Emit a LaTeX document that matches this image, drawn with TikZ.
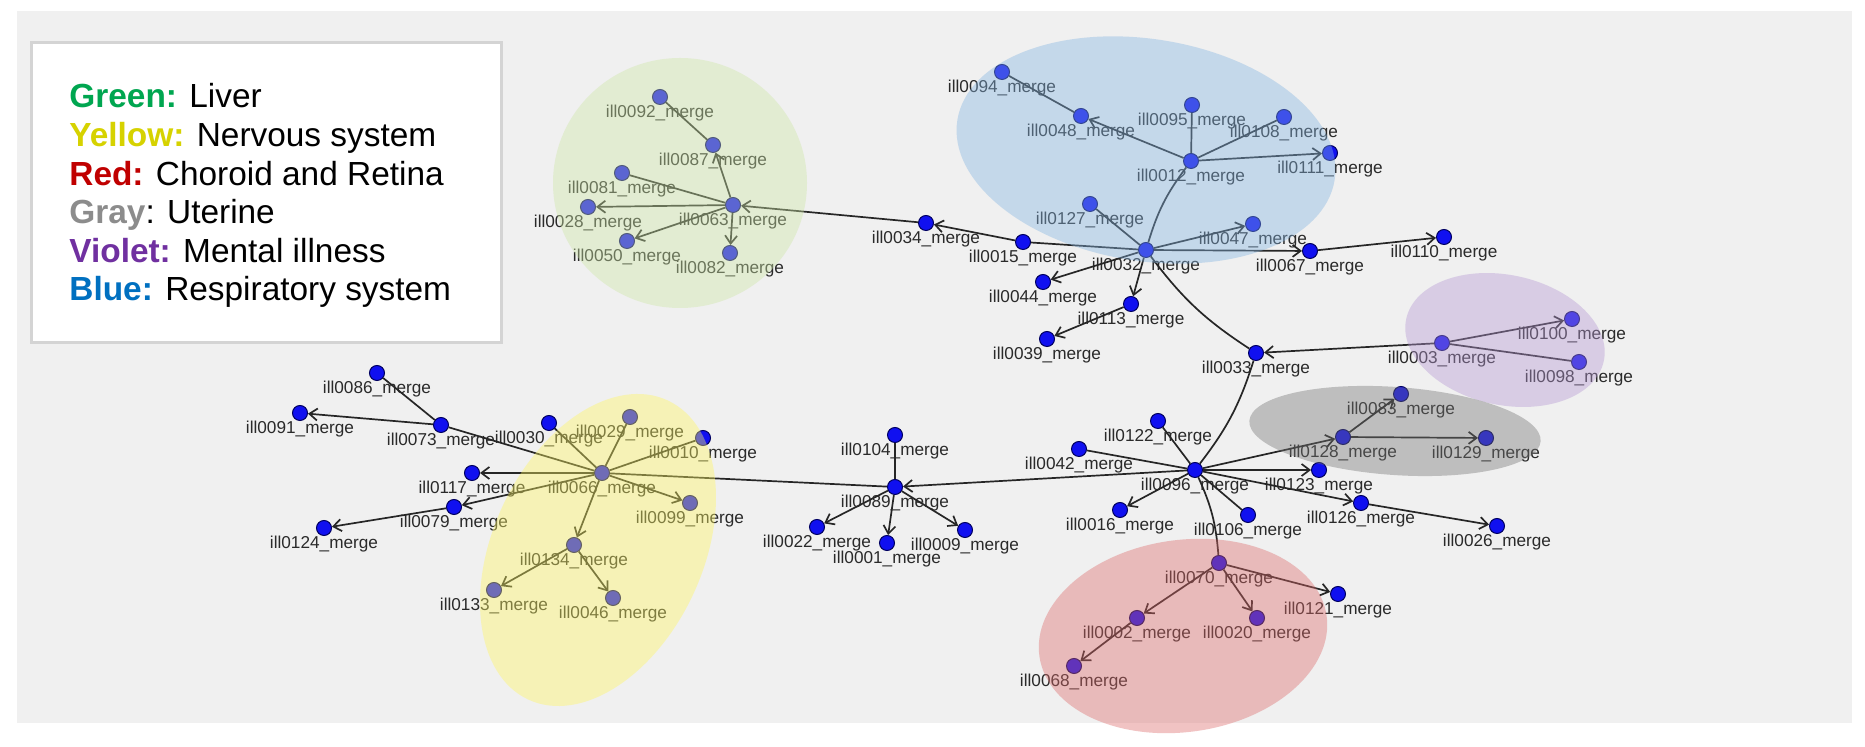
\documentclass[tikz,border=0pt]{standalone}
\usepackage{fontspec}
\setmainfont{Liberation Sans}
\usetikzlibrary{arrows.meta}

\definecolor{bgGray}{HTML}{F0F0F0}
\definecolor{frameGray}{HTML}{D4D4D4}
\definecolor{lgGreen}{HTML}{00A650}
\definecolor{lgYellow}{HTML}{D6D200}
\definecolor{lgRed}{HTML}{C00000}
\definecolor{lgGray}{HTML}{8C8C8C}
\definecolor{lgViolet}{HTML}{7030A0}
\definecolor{lgBlue}{HTML}{0070C0}
\definecolor{regGreen}{HTML}{CDE6A5}
\definecolor{regBlue}{HTML}{84B4E1}
\definecolor{regViolet}{HTML}{B496D2}
\definecolor{regGray}{HTML}{737373}
\definecolor{regYellow}{HTML}{FFF761}
\definecolor{regRed}{HTML}{DC6969}
\definecolor{illFill}{HTML}{1010F0}
\definecolor{illRim}{HTML}{000060}
\definecolor{illLine}{HTML}{262626}
\definecolor{illText}{HTML}{2A2A2A}

\newcommand{\pIllLabel}[1]{ill#1\_merge}

\tikzset{
  illnode/.style={circle, draw=illRim, line width=0.5pt, fill=illFill, inner sep=0pt,
    minimum size=7.5pt, label distance=4.8pt, label={[illlbl]below:\pIllLabel{#1}}},
  illlbl/.style={inner sep=0pt, text=illText, font=\fontsize{8.6}{9}\selectfont},
  illlink/.style={draw=illLine, line width=0.85pt},
  illarrow/.style={illlink, -{Straight Barb[length=4pt,width=6pt]}},
  region/.style={fill opacity=0.4},
  legendframe/.style={draw=frameGray, line width=1.5pt, fill=white},
  legendtext/.style={anchor=base west, inner sep=0pt, font=\fontsize{16.7}{19}\selectfont},
}

\begin{document}
\begin{tikzpicture}[x=0.5pt,y=-0.5pt]
\useasboundingbox (0,0) rectangle (1865,747);
\fill[white] (0,0) rectangle (1865,747);
\fill[bgGray] (17,11) rectangle (1852,723);

% legend
\draw[legendframe] (31,43) rectangle (501,343);
\node[legendtext] (lgLiver) at (69,108) {\textcolor{lgGreen}{\textbf{Green:}} Liver};
\node[legendtext] (lgNerve) at (69,146.6) {\textcolor{lgYellow}{\textbf{Yellow:}} Nervous system};
\node[legendtext] (lgRetina) at (69,185.2) {\textcolor{lgRed}{\textbf{Red:}} Choroid and Retina};
\node[legendtext] (lgUterine) at (69,223.8) {\textcolor{lgGray}{\textbf{Gray}}: Uterine};
\node[legendtext] (lgMental) at (69,262.4) {\textcolor{lgViolet}{\textbf{Violet:}} Mental illness};
\node[legendtext] (lgResp) at (69,301) {\textcolor{lgBlue}{\textbf{Blue:}} Respiratory system};

% liver group
\node[illnode=0092] (n092) at (660,97) {};
\node[illnode=0087] (n087) at (713,145) {};
\node[illnode=0081] (n081) at (622,173) {};
\node[illnode=0028] (n028) at (588,207) {};
\node[illnode=0063] (n063) at (733,205) {};
\node[illnode=0050] (n050) at (627,241) {};
\node[illnode=0082] (n082) at (730,253) {};
\node[illnode=0034] (n034) at (926,223) {};

% respiratory group and the right half
\node[illnode=0094] (n094) at (1002,72) {};
\node[illnode=0048] (n048) at (1081,116) {};
\node[illnode=0095] (n095) at (1192,105) {};
\node[illnode=0108] (n108) at (1284,117) {};
\node[illnode=0111] (n111) at (1330,153) {};
\node[illnode=0012] (n012) at (1191,161) {};
\node[illnode=0127] (n127) at (1090,204) {};
\node[illnode=0015] (n015) at (1023,242) {};
\node[illnode=0032] (n032) at (1146,250) {};
\node[illnode=0047] (n047) at (1253,224) {};
\node[illnode=0067] (n067) at (1310,251) {};
\node[illnode=0110] (n110) at (1444,237) {};
\node[illnode=0044] (n044) at (1043,282) {};
\node[illnode=0113] (n113) at (1131,304) {};
\node[illnode=0039] (n039) at (1047,339) {};
\node[illnode=0033] (n033) at (1256,353) {};
\node[illnode=0003] (n003) at (1442,343) {};
\node[illnode=0100] (n100) at (1572,319) {};
\node[illnode=0098] (n098) at (1579,362) {};
\node[illnode=0083] (n083) at (1401,394) {};
\node[illnode=0128] (n128) at (1343,437) {};
\node[illnode=0129] (n129) at (1486,438) {};
\node[illnode=0123] (n123) at (1319,470) {};
\node[illnode=0126] (n126) at (1361,503) {};
\node[illnode=0026] (n026) at (1497,526) {};
\node[illnode=0096] (n096) at (1195,470) {};
\node[illnode=0122] (n122) at (1158,421) {};
\node[illnode=0042] (n042) at (1079,449) {};
\node[illnode=0016] (n016) at (1120,510) {};
\node[illnode=0106] (n106) at (1248,515) {};
\node[illnode=0070] (n070) at (1219,563) {};
\node[illnode=0121] (n121) at (1338,594) {};
\node[illnode=0002] (n002) at (1137,618) {};
\node[illnode=0020] (n020) at (1257,618) {};
\node[illnode=0068] (n068) at (1074,666) {};
\node[illnode=0089] (n089) at (895,487) {};
\node[illnode=0104] (n104) at (895,435) {};
\node[illnode=0022] (n022) at (817,527) {};
\node[illnode=0001] (n001) at (887,543) {};
\node[illnode=0009] (n009) at (965,530) {};

% nervous system group
\node[illnode=0066] (n066) at (602,473) {};
\node[illnode=0086] (n086) at (377,373) {};
\node[illnode=0091] (n091) at (300,413) {};
\node[illnode=0073] (n073) at (441,425) {};
\node[illnode=0030] (n030) at (549,423) {};
\node[illnode=0029] (n029) at (630,417) {};
\node[illnode=0010] (n010) at (703,438) {};
\node[illnode=0117] (n117) at (472,473) {};
\node[illnode=0079] (n079) at (454,507) {};
\node[illnode=0124] (n124) at (324,528) {};
\node[illnode=0099] (n099) at (690,503) {};
\node[illnode=0134] (n134) at (574,545) {};
\node[illnode=0133] (n133) at (494,590) {};
\node[illnode=0046] (n046) at (613,598) {};

% links
\foreach \a/\b in {092/087, 081/063, 094/048, 095/012, 108/012, 127/032, 015/032,
    003/098, 096/122, 096/042, 096/106, 104/089, 089/066, 066/030, 066/029,
    066/010, 066/073, 073/086}
  \draw[illlink] (n\a) -- (n\b);
\foreach \a/\b in {063/087, 063/028, 063/050, 063/082, 034/063, 015/034, 012/048,
    012/111, 032/047, 032/067, 067/110, 032/044, 032/113, 113/039, 003/033,
    003/100, 096/128, 128/083, 128/129, 096/123, 096/126, 126/026, 096/016,
    070/121, 070/002, 070/020, 002/068, 096/089, 089/022, 089/001, 089/009,
    066/099, 073/091, 066/117, 066/079, 079/124, 066/134, 134/133, 134/046}
  \draw[illarrow] (n\a) -- (n\b);
\draw[illlink] (n032) to[bend left=10] (n012);
\draw[illlink] (n032) to[bend right=10] (n033);
\draw[illlink] (n033) to[bend left=10] (n096);
\draw[illlink] (n096) to[bend left=10] (n070);

% regions
\fill[region, regGreen] (680,183) ellipse [x radius=127, y radius=125];
\fill[region, regBlue, rotate around={-9:(1146,150)}] (1146,150) ellipse [x radius=191, y radius=111];
\fill[region, regViolet, rotate around={-12:(1505,340)}] (1505,340) ellipse [x radius=101, y radius=65];
\fill[region, regGray, rotate around={-4:(1395,431)}] (1395,431) ellipse [x radius=146, y radius=44];
\fill[region, regYellow, rotate around={-25:(598,550)}] (598,550) ellipse [x radius=105, y radius=165];
\fill[region, regRed, rotate around={8:(1183,636)}] (1183,636) ellipse [x radius=145, y radius=96];
\end{tikzpicture}
\end{document}
